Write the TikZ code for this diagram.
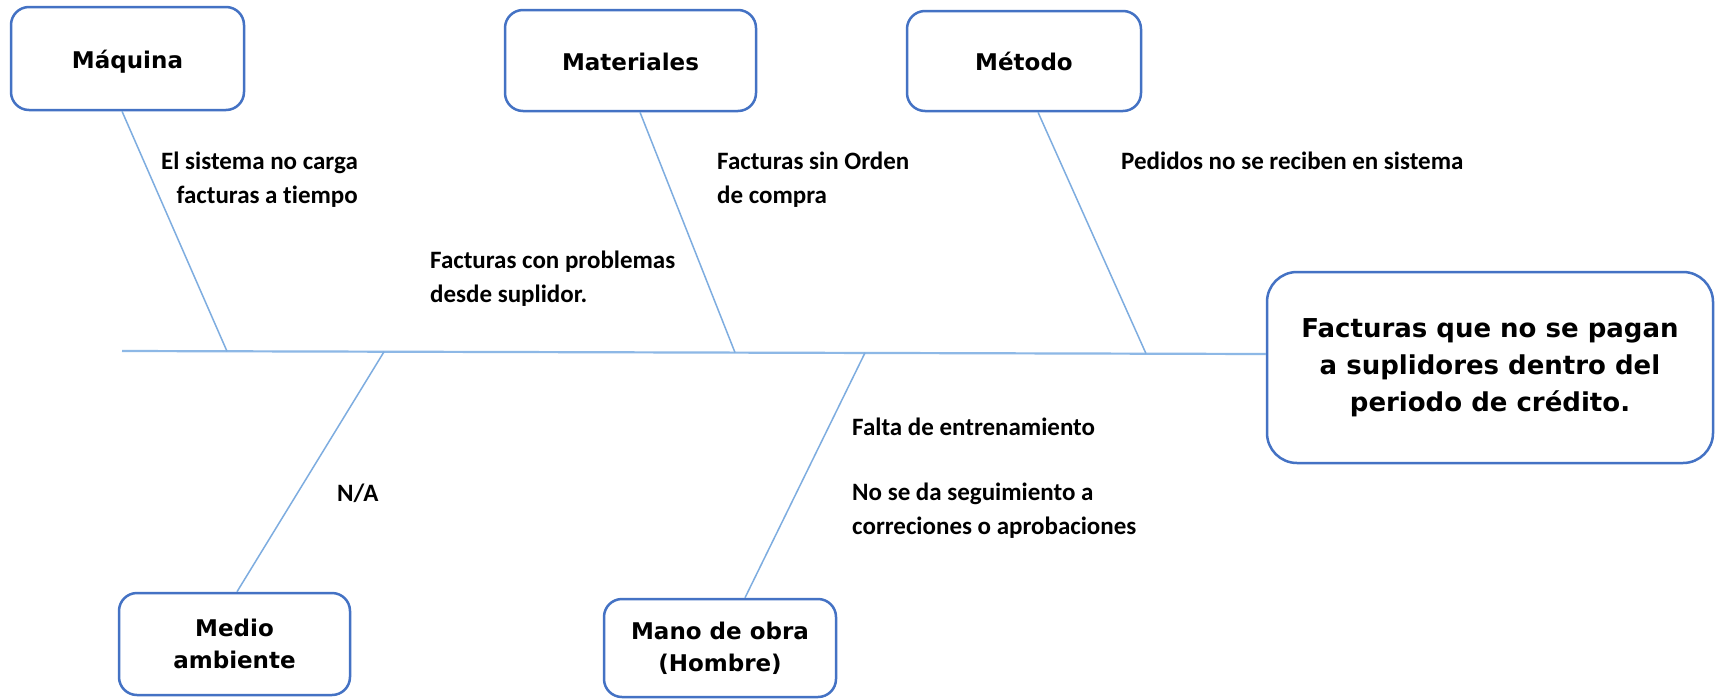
\documentclass[tikz,border=0pt]{standalone}
\usepackage{fontspec}
\setmainfont{DejaVu Sans}
\newfontfamily\lblfont[Ligatures=NoCommon]{Carlito}
\usetikzlibrary{calc}
\definecolor{boxblue}{HTML}{4472C4}
\definecolor{bonecol}{HTML}{7EADE0}
\definecolor{spinecol}{HTML}{8DB8E6}
\begin{document}
\begin{tikzpicture}[x=1pt,y=-1pt,
  cat/.style={draw=boxblue, line width=2.5pt, rounded corners=18pt, fill=white, inner sep=0pt, align=center, font=\bfseries\fontsize{23}{32}\selectfont},
  oneline/.style={text height=22pt, text depth=3pt},
  bone/.style={draw=bonecol, line width=1.5pt},
  spine/.style={draw=spinecol, line width=2.2pt},
  lbl/.style={inner sep=0pt, anchor=west, align=left, font=\lblfont\bfseries\fontsize{25}{34}\selectfont}]
\useasboundingbox (0,0) rectangle (1715,699);
\fill[white] (0,0) rectangle (1715,699);

% junction points on the spine
\coordinate (s0) at (122,351);
\coordinate (jmaq) at (227,351.3);
\coordinate (jmed) at (384,351.8);
\coordinate (jmat) at (735,352.5);
\coordinate (jmano) at (865,352.8);
\coordinate (jmet) at (1146,353.6);

\node[cat, oneline, minimum width=233pt, minimum height=103pt] (maq) at (127.5,58.5) {Máquina};
\node[cat, oneline, minimum width=251pt, minimum height=101pt] (mat) at (630.5,60.5) {Materiales};
\node[cat, oneline, minimum width=234pt, minimum height=100pt] (met) at (1024,61) {Método};
\node[cat, minimum width=231pt, minimum height=102pt] (med) at (234.5,644) {Medio\\ambiente};
\node[cat, minimum width=232pt, minimum height=98pt] (mano) at (720,648) {Mano de obra\\(Hombre)};
\node[cat, rounded corners=30pt, minimum width=446pt, minimum height=191pt, font=\bfseries\fontsize{26}{37}\selectfont] (efecto) at (1490,367.5) {Facturas que no se pagan\\a suplidores dentro del\\periodo de crédito.};

\draw[spine] (s0) -- ($(efecto.west)+(0,-13.5)$);
\draw[bone] ([xshift=-5.5pt]maq.south) -- (jmaq);
\draw[bone] ([xshift=9.5pt]mat.south) -- (jmat);
\draw[bone] ([xshift=14pt]met.south) -- (jmet);
\draw[bone] ([xshift=2.5pt]med.north) -- (jmed);
\draw[bone] ([xshift=25pt]mano.north) -- (jmano);

% cause labels
\node[lbl, anchor=east, align=right] (c1) at (358,180) {El sistema no carga\\facturas a tiempo};
\node[lbl] (c2) at (430,279) {Facturas con problemas\\desde suplidor.};
\node[lbl] (c3) at (717,180) {Facturas sin Orden\\de compra};
\node[lbl] (c4) at (1121,161) {Pedidos no se reciben en sistema};
\node[lbl] (c5) at (852,427) {Falta de entrenamiento};
\node[lbl] (c6) at (852,510.5) {No se da seguimiento a\\correciones o aprobaciones};
\node[lbl] (c7) at (337,493) {N/A};
\end{tikzpicture}
\end{document}
